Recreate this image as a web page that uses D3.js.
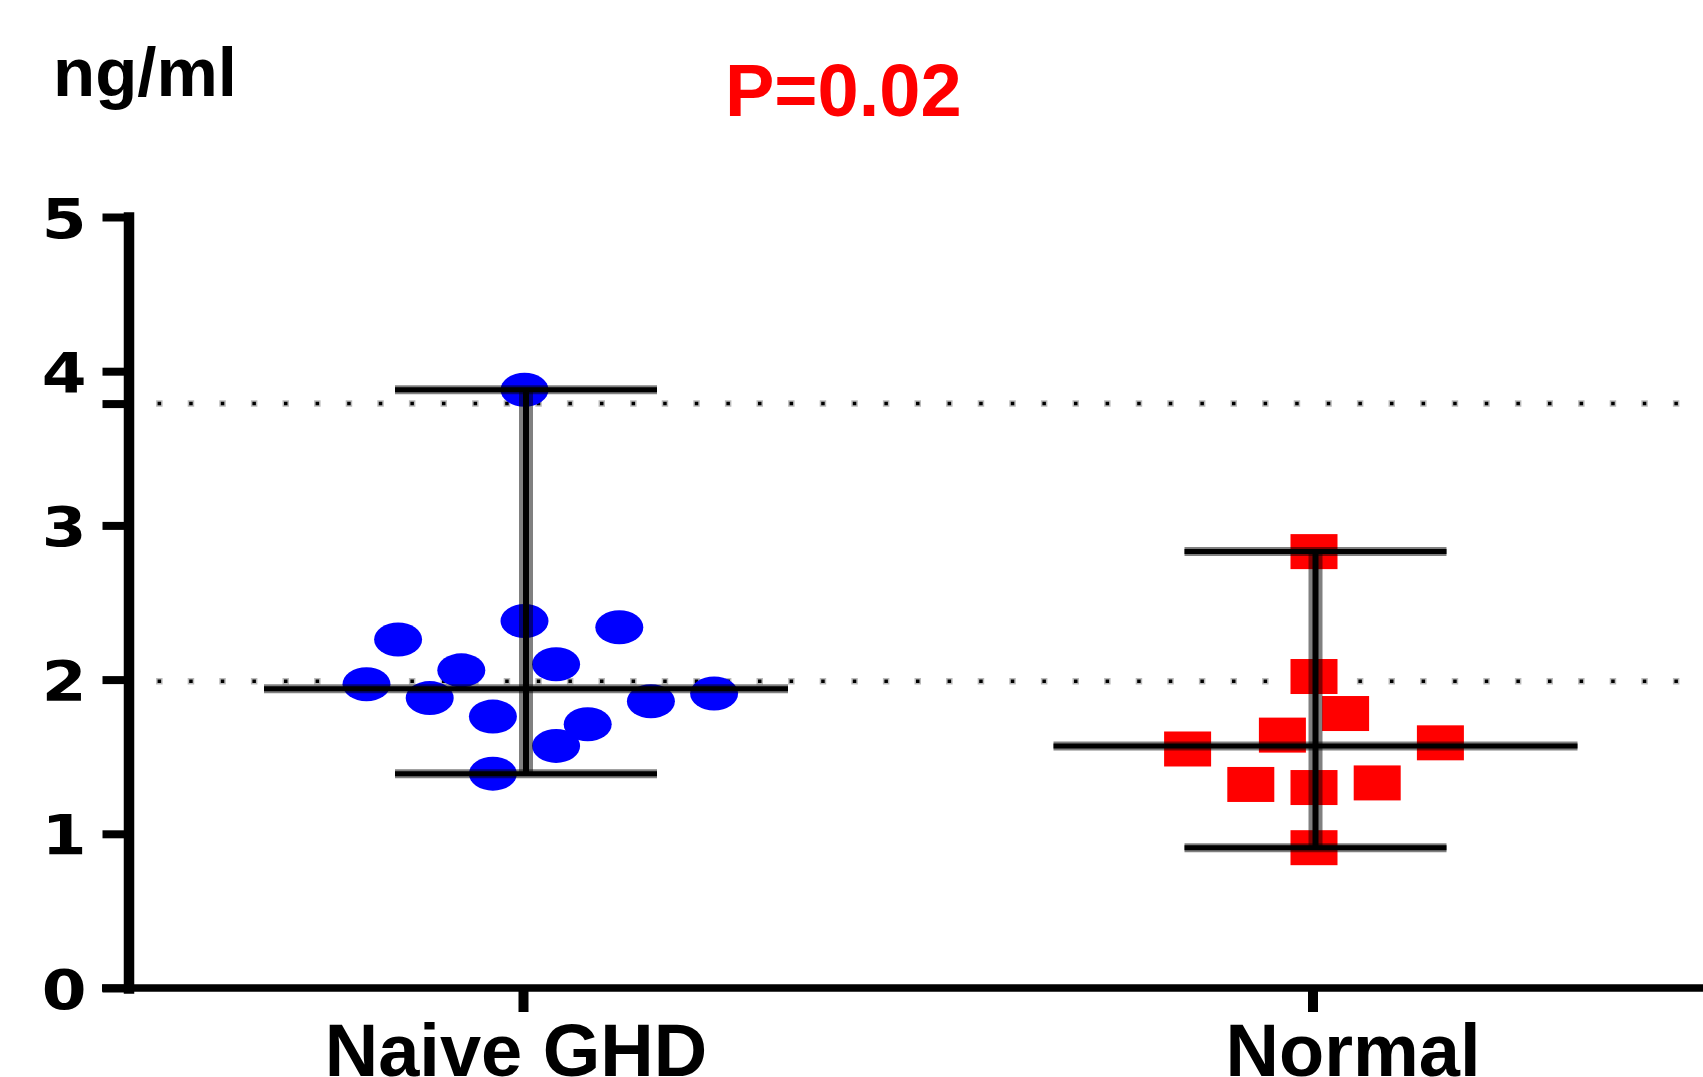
<!DOCTYPE html>
<html>
<head>
<meta charset="utf-8">
<script src="https://cdn.jsdelivr.net/npm/d3@7"></script>
<style>
  body { margin: 0; background: #fff; }
  svg { display: block; }
</style>
</head>
<body>
<div id="chart"></div>
<script>
// groups and read-off values (slot = horizontal jitter column)
var groups = ["Naive GHD", "Normal"];
var naiveSlots = [0, -4, 0, 3, -2, 1, -5, -3, -1, 2, 4, 6, 1, -1];
var naiveValues = [3.88, 2.26, 2.38, 2.34, 2.06, 2.10, 1.97, 1.88, 1.76, 1.71, 1.86, 1.91, 1.57, 1.39];
var normalSlots = [0, 0, 1, -1, -4, 4, -2, 0, 2, 0];
var normalValues = [2.83, 2.02, 1.78, 1.64, 1.55, 1.59, 1.32, 1.30, 1.33, 0.91];
var refLines = [3.79, 1.99];
var yTicks = [0, 1, 2, 3, 4, 5];
var unitLabel = "ng/ml";
var pLabel = "P=0.02";

var width = 1703, height = 1077;
var axisX = 128.5, step = 31.6;
var labelShift = {"Naive GHD": -7.5, "Normal": 40};

var svg = d3.select("#chart")
	.append("svg")
	  .attr("width", width)
	  .attr("height", height);

var y = d3.scaleLinear().domain([0, 5]).range([988, 217]);
var x = d3.scalePoint().domain(groups).range([524.5, 1314]);

var series = [
	{name: groups[0], slots: naiveSlots, values: naiveValues, color: "#0000ff", shape: "circle"},
	{name: groups[1], slots: normalSlots, values: normalValues, color: "#ff0000", shape: "square"}
];

// dotted reference lines (gray halo + dark core)
[["#bbb", 6.5], ["#000", 3.5]].forEach(function(st){
	svg.append("g")
		.selectAll("line")
		.data(refLines)
	  .enter().append("line")
		.attr("x1", axisX - 2.5 - (st[1] - 3.5) / 2)
		.attr("x2", width)
		.attr("y1", d => y(d))
		.attr("y2", d => y(d))
		.attr("stroke", st[0])
		.attr("stroke-width", st[1])
		.attr("stroke-dasharray", st[1] + " " + (31.6 - st[1]));
});

// points
series.forEach(function(s){
	var pts = s.values.map((v, i) => ({v: v, slot: s.slots[i]}));
	var g = svg.append("g").attr("fill", s.color);
	if (s.shape == "circle") {
		g.selectAll("ellipse").data(pts).enter().append("ellipse")
			.attr("cx", d => x(s.name) + d.slot * step)
			.attr("cy", d => y(d.v))
			.attr("rx", 24)
			.attr("ry", 17);
	} else {
		g.selectAll("rect").data(pts).enter().append("rect")
			.attr("x", d => x(s.name) + d.slot * step - 23.5)
			.attr("y", d => y(d.v) - 17.5)
			.attr("width", 47)
			.attr("height", 35);
	}
});

// median and range lines
function seg(g, x1, y1, x2, y2, w, halo){
	g.append("line")
		.attr("x1", x1).attr("x2", x2).attr("y1", y1).attr("y2", y2)
		.attr("stroke", "#808080").attr("stroke-width", halo)
		.style("mix-blend-mode", "multiply");
	g.append("line")
		.attr("x1", x1).attr("x2", x2).attr("y1", y1).attr("y2", y2)
		.attr("stroke", "#000").attr("stroke-width", w);
}

series.forEach(function(s){
	var cx = x(s.name) + 1.5;
	var med = d3.median(s.values);
	var ext = d3.extent(s.values);
	var g = svg.append("g");
	seg(g, cx, y(ext[1]), cx, y(ext[0]), 6, 14);
	seg(g, cx - 262, y(med), cx + 262, y(med), 5, 9);
	seg(g, cx - 131, y(ext[1]), cx + 131, y(ext[1]), 5, 9);
	seg(g, cx - 131, y(ext[0]), cx + 131, y(ext[0]), 5, 9);
});

// x axis
svg.append("line")
	.attr("x1", 102).attr("x2", width)
	.attr("y1", y(0)).attr("y2", y(0))
	.attr("stroke", "#000").attr("stroke-width", 7.5);

var gx = svg.append("g")
	.attr("transform", "translate(-1.5," + y(0) + ")")
	.call(d3.axisBottom(x).tickSize(24).tickSizeOuter(0));
gx.attr("font-family", "Liberation Sans, Arial, sans-serif")
	.attr("font-weight", "bold")
	.attr("font-size", 74);
gx.select(".domain").remove();
gx.selectAll(".tick line").attr("stroke", "#000").attr("stroke-width", 10);
gx.selectAll(".tick text")
	.attr("fill", "#000")
	.attr("y", 88)
	.attr("dy", 0)
	.attr("x", d => labelShift[d]);

// y axis
var gy = svg.append("g")
	.attr("transform", "translate(" + axisX + ",0)")
	.call(d3.axisLeft(y)
		.tickValues(yTicks.concat([refLines[0]]))
		.tickSize(26)
		.tickSizeOuter(0)
		.tickFormat(d => yTicks.includes(d) ? d : ""));
gy.attr("font-family", "DejaVu Sans, sans-serif")
	.attr("font-weight", "bold")
	.attr("font-size", 56);
gy.select(".domain")
	.attr("stroke", "#000")
	.attr("stroke-width", 10.5)
	.attr("stroke-linecap", "square");
gy.selectAll(".tick line").attr("stroke", "#000").attr("stroke-width", 8);
gy.selectAll(".tick text")
	.attr("fill", "#000")
	.attr("x", -42 / 1.15)
	.attr("dy", "0.36em")
	.attr("transform", "scale(1.15,1)");

// titles
svg.append("text")
	.attr("x", 53).attr("y", 96)
	.attr("font-family", "Liberation Sans, Arial, sans-serif")
	.attr("font-weight", "bold")
	.attr("font-size", 69)
	.attr("fill", "#000")
	.text(unitLabel);

svg.append("text")
	.attr("x", 725).attr("y", 116)
	.attr("font-family", "Liberation Sans, Arial, sans-serif")
	.attr("font-weight", "bold")
	.attr("font-size", 74)
	.attr("fill", "#ff0000")
	.text(pLabel);
</script>
</body>
</html>
